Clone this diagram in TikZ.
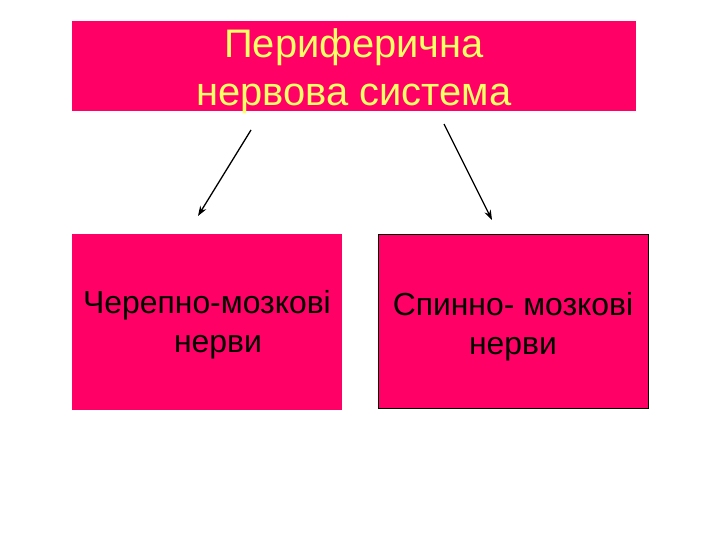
\documentclass[tikz,border=0pt]{standalone}
\usepackage{fontspec}
\setmainfont{Liberation Sans}
\usetikzlibrary{arrows.meta}
\definecolor{pinkfill}{HTML}{FF0066}
\definecolor{titleyellow}{HTML}{FFFF66}
\begin{document}
\begin{tikzpicture}[x=1bp,y=-1bp,
  box/.style={fill=pinkfill,inner sep=0pt,anchor=north west},
  txt/.style={inner sep=0pt,anchor=north,align=center},
  arr/.style={-{Stealth[length=10bp,width=7bp]},line width=1.3bp,black}]
\useasboundingbox[fill=white] (0,0) rectangle (720,540);
\node[box,minimum width=564bp,minimum height=90bp] (top) at (72,21) {};
\node[box,minimum width=270bp,minimum height=176bp] (left) at (72,234) {};
\node[box,draw=black,line width=1bp,minimum width=270bp,minimum height=174bp] (right) at (378,234) {};
\node[txt,text=titleyellow,font=\fontsize{40}{49}\selectfont] (toptext) at (354,28)
  {Периферична\\нервова система};
\node[txt,font=\fontsize{32}{39}\selectfont] (lefttext) at (207,290)
  {Черепно-мозкові\\\hspace*{22bp}нерви};
\node[txt,font=\fontsize{32}{39}\selectfont] (righttext) at (513,292)
  {Спинно- мозкові\\нерви};
\coordinate (a1) at (251,130);
\coordinate (a2) at (198,216);
\coordinate (b1) at (444,124);
\coordinate (b2) at (492,220);
\draw[arr] (a1) -- (a2);
\draw[arr] (b1) -- (b2);
\end{tikzpicture}
\end{document}
